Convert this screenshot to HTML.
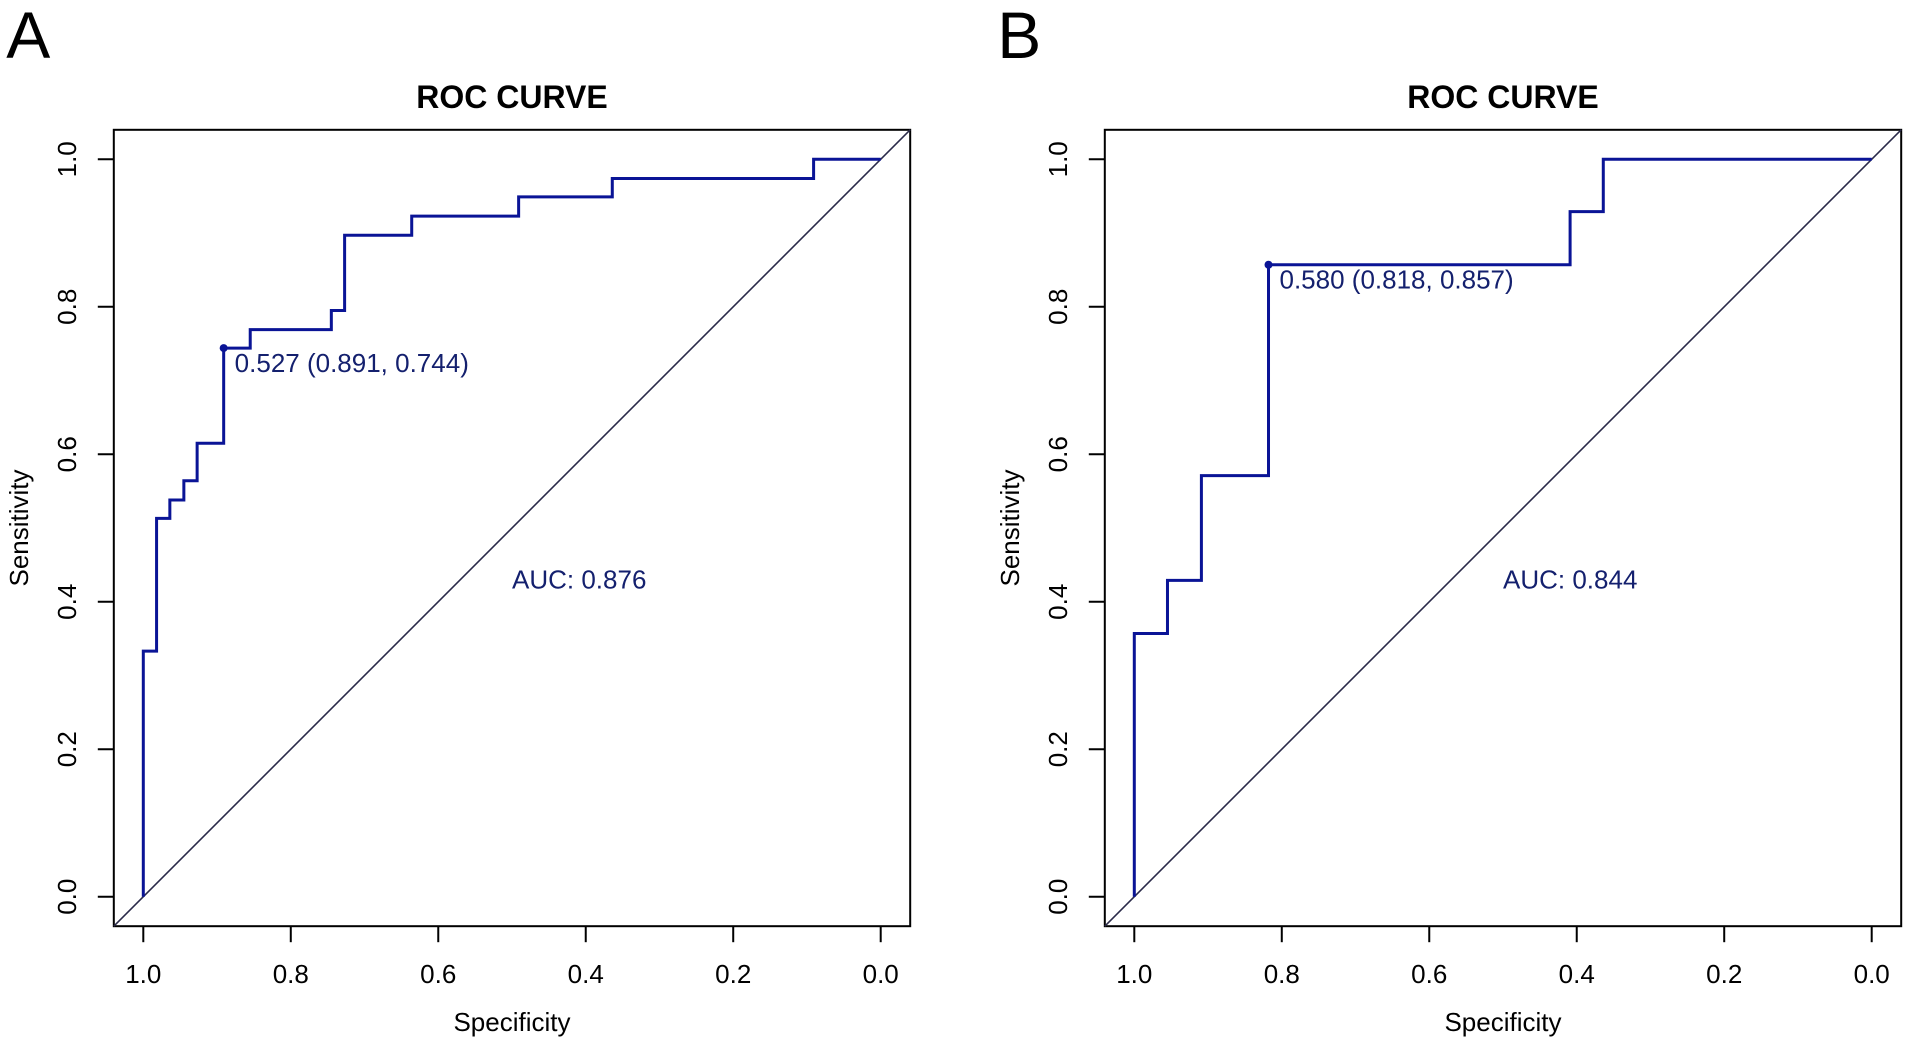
<!DOCTYPE html>
<html><head><meta charset="utf-8"><style>
html,body{margin:0;padding:0;background:#fff;}
svg{display:block;font-family:"Liberation Sans",Arial,sans-serif;}
</style></head><body>
<svg id="fig" width="1908" height="1043" viewBox="0 0 1908 1043" xmlns="http://www.w3.org/2000/svg">
<g id="pA"></g>
<g id="pB"></g>
</svg>
<script>
// Panel A data (step corners: specificity at which sensitivity rises to level)
const specA = [1.0, 0.982, 0.964, 0.945, 0.927, 0.891, 0.855, 0.745, 0.727, 0.636, 0.491, 0.364, 0.091];
const sensA = [0.333, 0.513, 0.538, 0.564, 0.615, 0.744, 0.769, 0.795, 0.897, 0.923, 0.949, 0.974, 1.0];
const bestA = [0.891, 0.744];
const bestLabelA = "0.527 (0.891, 0.744)";
const aucLabelA = "AUC: 0.876";
// Panel B data
const specB = [1.0, 0.955, 0.909, 0.818, 0.409, 0.364];
const sensB = [0.357, 0.429, 0.571, 0.857, 0.929, 1.0];
const bestB = [0.818, 0.857];
const bestLabelB = "0.580 (0.818, 0.857)";
const aucLabelB = "AUC: 0.844";
const ticks = [1.0, 0.8, 0.6, 0.4, 0.2, 0.0];
const tickLabels = ["1.0", "0.8", "0.6", "0.4", "0.2", "0.0"];

const NS = "http://www.w3.org/2000/svg";
function mk(parent, tag, attrs, text) {
  const e = document.createElementNS(NS, tag);
  for (const k in attrs) e.setAttribute(k, attrs[k]);
  if (text !== undefined) e.textContent = text;
  parent.appendChild(e);
  return e;
}
function panel(g, x1, letter, spec, sens, best, bestLabel, aucLabel) {
  const W = 737.4, y0 = 896.7;
  const X = s => x1 + (1 - s) * W;
  const Y = v => y0 - v * W;
  const pad = 0.04 * W;
  const L = mk(g, "text", {x: x1 - 137, y: 58, "font-size": 66, fill: "#000"}, letter);
  
  
  const t = mk(g, "text", {x: X(0.5), y: 108, "font-size": 32, "font-weight": "bold", "text-anchor": "middle"}, "ROC CURVE");
  
  
  const box = mk(g, "rect", {x: X(1) - pad, y: Y(1) - pad, width: W + 2 * pad, height: W + 2 * pad, fill: "none", stroke: "#000", "stroke-width": 2});
  
  
  const bot = Y(0) + pad;
  ticks.forEach((v, i) => {
    const tx = mk(g, "line", {x1: X(v), x2: X(v), y1: bot, y2: bot + 16, stroke: "#000", "stroke-width": 2});
    
    
    const lx = mk(g, "text", {x: X(v), y: 983, "font-size": 26, "text-anchor": "middle"}, tickLabels[i]);
    
    
    const ty = mk(g, "line", {x1: X(1) - pad, x2: X(1) - pad - 16, y1: Y(v), y2: Y(v), stroke: "#000", "stroke-width": 2});
    
    
    const ly = mk(g, "text", {x: 0, y: 0, "font-size": 26, "text-anchor": "middle", transform: `translate(${X(1) - pad - 38},${Y(v)}) rotate(-90)`}, tickLabels[i]);
    
    
  });
  const xt = mk(g, "text", {x: X(0.5), y: 1031, "font-size": 26, "text-anchor": "middle"}, "Specificity");
  
  
  const yt = mk(g, "text", {x: 0, y: 0, "font-size": 26, "text-anchor": "middle", transform: `translate(${X(1) - pad - 86},${Y(0.5)}) rotate(-90)`}, "Sensitivity");
  
  
  const diag = mk(g, "line", {x1: X(1) - pad, y1: Y(0) + pad, x2: X(0) + pad, y2: Y(1) - pad, stroke: "#2b2b4a", "stroke-width": 1.6});
  
  
  let d = `M${X(1)},${Y(0)}`;
  for (let i = 0; i < spec.length; i++) {
    d += ` L${X(spec[i])},${Y(i === 0 ? 0 : sens[i - 1])} L${X(spec[i])},${Y(sens[i])}`;
  }
  d += ` L${X(0)},${Y(sens[sens.length - 1])}`;
  const c = mk(g, "path", {d: d, fill: "none", stroke: "#0a1496", "stroke-width": 3});
  
  
  const p = mk(g, "circle", {cx: X(best[0]), cy: Y(best[1]), r: 4, fill: "#0a1496"});
  
  
  const bl = mk(g, "text", {x: X(best[0]) + 11, y: Y(best[1]) + 24, "font-size": 26, fill: "#14206e"}, bestLabel);
  
  
  const al = mk(g, "text", {x: X(0.5), y: Y(0.43) + 9, "font-size": 26, fill: "#14206e"}, aucLabel);
  
  
}
panel(document.getElementById("pA"), 143.3, "A", specA, sensA, bestA, bestLabelA, aucLabelA);
panel(document.getElementById("pB"), 1134.3, "B", specB, sensB, bestB, bestLabelB, aucLabelB);
</script>
</body></html>
